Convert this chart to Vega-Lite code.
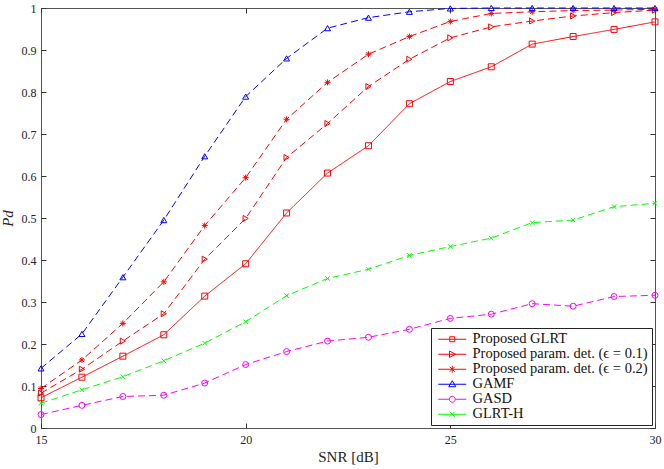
{
  "$schema": "https://vega.github.io/schema/vega-lite/v6.json",
  "width": 614,
  "height": 420,
  "autosize": "none",
  "padding": {"left": 41, "top": 8, "right": 9, "bottom": 41},
  "background": "white",
  "config": {
    "view": {"stroke": "#555", "strokeWidth": 1},
    "font": "Liberation Serif",
    "axis": {
      "grid": false,
      "domain": false,
      "tickSize": -5,
      "tickColor": "#333",
      "labelFont": "Liberation Serif",
      "labelFontSize": 12,
      "labelColor": "#222",
      "titleFont": "Liberation Serif",
      "titleFontWeight": "normal",
      "titleFontSize": 15,
      "titleColor": "#222"
    },
    "point": {"filled": false, "strokeWidth": 1, "opacity": 1, "size": 36, "clip": false}
  },
  "data": {
    "values": [
      {"series": "Proposed GLRT", "snr": 15, "pd": 0.072},
      {"series": "Proposed GLRT", "snr": 16, "pd": 0.121},
      {"series": "Proposed GLRT", "snr": 17, "pd": 0.171},
      {"series": "Proposed GLRT", "snr": 18, "pd": 0.222},
      {"series": "Proposed GLRT", "snr": 19, "pd": 0.314},
      {"series": "Proposed GLRT", "snr": 20, "pd": 0.391},
      {"series": "Proposed GLRT", "snr": 21, "pd": 0.512},
      {"series": "Proposed GLRT", "snr": 22, "pd": 0.607},
      {"series": "Proposed GLRT", "snr": 23, "pd": 0.672},
      {"series": "Proposed GLRT", "snr": 24, "pd": 0.772},
      {"series": "Proposed GLRT", "snr": 25, "pd": 0.825},
      {"series": "Proposed GLRT", "snr": 26, "pd": 0.86},
      {"series": "Proposed GLRT", "snr": 27, "pd": 0.914},
      {"series": "Proposed GLRT", "snr": 28, "pd": 0.932},
      {"series": "Proposed GLRT", "snr": 29, "pd": 0.949},
      {"series": "Proposed GLRT", "snr": 30, "pd": 0.967},
      {"series": "Proposed param. det. (ϵ = 0.1)", "snr": 15, "pd": 0.083},
      {"series": "Proposed param. det. (ϵ = 0.1)", "snr": 16, "pd": 0.14},
      {"series": "Proposed param. det. (ϵ = 0.1)", "snr": 17, "pd": 0.207},
      {"series": "Proposed param. det. (ϵ = 0.1)", "snr": 18, "pd": 0.272},
      {"series": "Proposed param. det. (ϵ = 0.1)", "snr": 19, "pd": 0.402},
      {"series": "Proposed param. det. (ϵ = 0.1)", "snr": 20, "pd": 0.499},
      {"series": "Proposed param. det. (ϵ = 0.1)", "snr": 21, "pd": 0.644},
      {"series": "Proposed param. det. (ϵ = 0.1)", "snr": 22, "pd": 0.725},
      {"series": "Proposed param. det. (ϵ = 0.1)", "snr": 23, "pd": 0.813},
      {"series": "Proposed param. det. (ϵ = 0.1)", "snr": 24, "pd": 0.878},
      {"series": "Proposed param. det. (ϵ = 0.1)", "snr": 25, "pd": 0.929},
      {"series": "Proposed param. det. (ϵ = 0.1)", "snr": 26, "pd": 0.955},
      {"series": "Proposed param. det. (ϵ = 0.1)", "snr": 27, "pd": 0.969},
      {"series": "Proposed param. det. (ϵ = 0.1)", "snr": 28, "pd": 0.981},
      {"series": "Proposed param. det. (ϵ = 0.1)", "snr": 29, "pd": 0.989},
      {"series": "Proposed param. det. (ϵ = 0.1)", "snr": 30, "pd": 0.995},
      {"series": "Proposed param. det. (ϵ = 0.2)", "snr": 15, "pd": 0.094},
      {"series": "Proposed param. det. (ϵ = 0.2)", "snr": 16, "pd": 0.162},
      {"series": "Proposed param. det. (ϵ = 0.2)", "snr": 17, "pd": 0.249},
      {"series": "Proposed param. det. (ϵ = 0.2)", "snr": 18, "pd": 0.348},
      {"series": "Proposed param. det. (ϵ = 0.2)", "snr": 19, "pd": 0.482},
      {"series": "Proposed param. det. (ϵ = 0.2)", "snr": 20, "pd": 0.596},
      {"series": "Proposed param. det. (ϵ = 0.2)", "snr": 21, "pd": 0.735},
      {"series": "Proposed param. det. (ϵ = 0.2)", "snr": 22, "pd": 0.823},
      {"series": "Proposed param. det. (ϵ = 0.2)", "snr": 23, "pd": 0.89},
      {"series": "Proposed param. det. (ϵ = 0.2)", "snr": 24, "pd": 0.932},
      {"series": "Proposed param. det. (ϵ = 0.2)", "snr": 25, "pd": 0.968},
      {"series": "Proposed param. det. (ϵ = 0.2)", "snr": 26, "pd": 0.987},
      {"series": "Proposed param. det. (ϵ = 0.2)", "snr": 27, "pd": 0.991},
      {"series": "Proposed param. det. (ϵ = 0.2)", "snr": 28, "pd": 0.994},
      {"series": "Proposed param. det. (ϵ = 0.2)", "snr": 29, "pd": 0.995},
      {"series": "Proposed param. det. (ϵ = 0.2)", "snr": 30, "pd": 0.997},
      {"series": "GAMF", "snr": 15, "pd": 0.142},
      {"series": "GAMF", "snr": 16, "pd": 0.224},
      {"series": "GAMF", "snr": 17, "pd": 0.359},
      {"series": "GAMF", "snr": 18, "pd": 0.495},
      {"series": "GAMF", "snr": 19, "pd": 0.647},
      {"series": "GAMF", "snr": 20, "pd": 0.789},
      {"series": "GAMF", "snr": 21, "pd": 0.88},
      {"series": "GAMF", "snr": 22, "pd": 0.952},
      {"series": "GAMF", "snr": 23, "pd": 0.977},
      {"series": "GAMF", "snr": 24, "pd": 0.991},
      {"series": "GAMF", "snr": 25, "pd": 0.999},
      {"series": "GAMF", "snr": 26, "pd": 1.0},
      {"series": "GAMF", "snr": 27, "pd": 1.0},
      {"series": "GAMF", "snr": 28, "pd": 1.0},
      {"series": "GAMF", "snr": 29, "pd": 1.0},
      {"series": "GAMF", "snr": 30, "pd": 1.0},
      {"series": "GASD", "snr": 15, "pd": 0.032},
      {"series": "GASD", "snr": 16, "pd": 0.054},
      {"series": "GASD", "snr": 17, "pd": 0.075},
      {"series": "GASD", "snr": 18, "pd": 0.078},
      {"series": "GASD", "snr": 19, "pd": 0.107},
      {"series": "GASD", "snr": 20, "pd": 0.151},
      {"series": "GASD", "snr": 21, "pd": 0.182},
      {"series": "GASD", "snr": 22, "pd": 0.207},
      {"series": "GASD", "snr": 23, "pd": 0.216},
      {"series": "GASD", "snr": 24, "pd": 0.235},
      {"series": "GASD", "snr": 25, "pd": 0.261},
      {"series": "GASD", "snr": 26, "pd": 0.271},
      {"series": "GASD", "snr": 27, "pd": 0.296},
      {"series": "GASD", "snr": 28, "pd": 0.29},
      {"series": "GASD", "snr": 29, "pd": 0.313},
      {"series": "GASD", "snr": 30, "pd": 0.316},
      {"series": "GLRT-H", "snr": 15, "pd": 0.059},
      {"series": "GLRT-H", "snr": 16, "pd": 0.091},
      {"series": "GLRT-H", "snr": 17, "pd": 0.122},
      {"series": "GLRT-H", "snr": 18, "pd": 0.16},
      {"series": "GLRT-H", "snr": 19, "pd": 0.202},
      {"series": "GLRT-H", "snr": 20, "pd": 0.253},
      {"series": "GLRT-H", "snr": 21, "pd": 0.315},
      {"series": "GLRT-H", "snr": 22, "pd": 0.356},
      {"series": "GLRT-H", "snr": 23, "pd": 0.378},
      {"series": "GLRT-H", "snr": 24, "pd": 0.411},
      {"series": "GLRT-H", "snr": 25, "pd": 0.432},
      {"series": "GLRT-H", "snr": 26, "pd": 0.452},
      {"series": "GLRT-H", "snr": 27, "pd": 0.489},
      {"series": "GLRT-H", "snr": 28, "pd": 0.495},
      {"series": "GLRT-H", "snr": 29, "pd": 0.527},
      {"series": "GLRT-H", "snr": 30, "pd": 0.535}
    ]
  },
  "encoding": {
    "x": {"field": "snr", "type": "quantitative", "scale": {"domain": [15, 30], "nice": false, "zero": false}, "axis": null},
    "y": {"field": "pd", "type": "quantitative", "scale": {"domain": [0, 1], "nice": false}, "axis": null},
    "color": {
      "field": "series", "type": "nominal",
      "scale": {
        "domain": ["Proposed GLRT", "Proposed param. det. (ϵ = 0.1)", "Proposed param. det. (ϵ = 0.2)", "GAMF", "GASD", "GLRT-H"],
        "range": ["#ff0000", "#ff0000", "#ff0000", "#0000ff", "#ff00ff", "#00ff00"]
      },
      "legend": null
    }
  },
  "layer": [
    {
      "mark": {"type": "line", "strokeWidth": 1, "clip": false},
      "encoding": {
        "x": {
          "field": "snr", "type": "quantitative",
          "axis": {"values": [15, 20, 25, 30], "title": "SNR [dB]", "labelPadding": 11, "titlePadding": 4, "labelFlush": false}
        },
        "y": {
          "field": "pd", "type": "quantitative",
          "axis": {"values": [0, 0.1, 0.2, 0.3, 0.4, 0.5, 0.6, 0.7, 0.8, 0.9, 1], "format": "~g", "title": "Pd", "titleFontStyle": "italic", "labelPadding": 10, "titlePadding": 6, "labelFlush": false}
        },
        "color": {
          "field": "series", "type": "nominal",
          "legend": {
            "title": null,
            "orient": "bottom-right",
            "offset": 3,
            "fillColor": "white",
            "strokeColor": "#222",
            "padding": 4,
            "symbolType": "stroke",
            "symbolSize": 100,
            "symbolStrokeWidth": 1,
            "labelOffset": 23,
            "labelFont": "Liberation Serif",
            "labelFontSize": 14.5,
            "labelColor": "#111",
            "rowPadding": 0,
            "labelLimit": 300,
            "encode": {
              "symbols": {
                "update": {
                  "fill": {"value": "transparent"},
                  "shape": {"signal": "datum.value === 'Proposed GLRT' ? 'M-0.8,0H4.8M1.5,-0.5H2.5V0.5H1.5Z' : datum.value === 'Proposed param. det. (ϵ = 0.1)' ? 'M-0.8,0H4.8M1.45,-0.65L2.65,0L1.45,0.65Z' : datum.value === 'Proposed param. det. (ϵ = 0.2)' ? 'M-0.8,0H4.8M2,-0.7V0.7M1.5,-0.5L2.5,0.5M1.5,0.5L2.5,-0.5' : datum.value === 'GAMF' ? 'M-0.8,0H4.8M2,-0.7L2.7,0.5H1.3Z' : datum.value === 'GASD' ? 'M-0.8,0H1.4M2.6,0H4.8M2.6,0A0.6,0.6 0 1,1 1.4,0A0.6,0.6 0 1,1 2.6,0' : 'M-0.8,0H4.8M1.5,-0.5L2.5,0.5M1.5,0.5L2.5,-0.5'"}
                }
              }
            }
          }
        },
        "strokeDash": {
          "condition": {"test": "datum.series === 'Proposed GLRT'", "value": [1, 0]},
          "value": [7, 4]
        }
      }
    },
    {
      "transform": [{"filter": "datum.series === 'Proposed GLRT'"}],
      "mark": {"type": "point", "shape": "square"},
      "encoding": {
        "x": {"field": "snr", "type": "quantitative", "axis": {"orient": "top", "values": [15, 20, 25, 30], "labels": false, "title": null}},
        "y": {"field": "pd", "type": "quantitative", "axis": {"orient": "right", "values": [0, 0.1, 0.2, 0.3, 0.4, 0.5, 0.6, 0.7, 0.8, 0.9, 1], "labels": false, "title": null}}
      }
    },
    {
      "transform": [{"filter": "datum.series === 'Proposed param. det. (ϵ = 0.1)'"}],
      "mark": {"type": "point", "shape": "triangle-right"}
    },
    {
      "transform": [{"filter": "datum.series === 'Proposed param. det. (ϵ = 0.2)'"}],
      "mark": {"type": "point", "shape": "M0,-1V1M-1,0H1M-0.7,-0.7L0.7,0.7M-0.7,0.7L0.7,-0.7"}
    },
    {
      "transform": [{"filter": "datum.series === 'GAMF'"}],
      "mark": {"type": "point", "shape": "triangle-up"}
    },
    {
      "transform": [{"filter": "datum.series === 'GASD'"}],
      "mark": {"type": "point", "shape": "circle"}
    },
    {
      "transform": [{"filter": "datum.series === 'GLRT-H'"}],
      "mark": {"type": "point", "shape": "M-0.75,-0.75L0.75,0.75M-0.75,0.75L0.75,-0.75"}
    }
  ],
  "resolve": {"axis": {"x": "independent", "y": "independent"}}
}
